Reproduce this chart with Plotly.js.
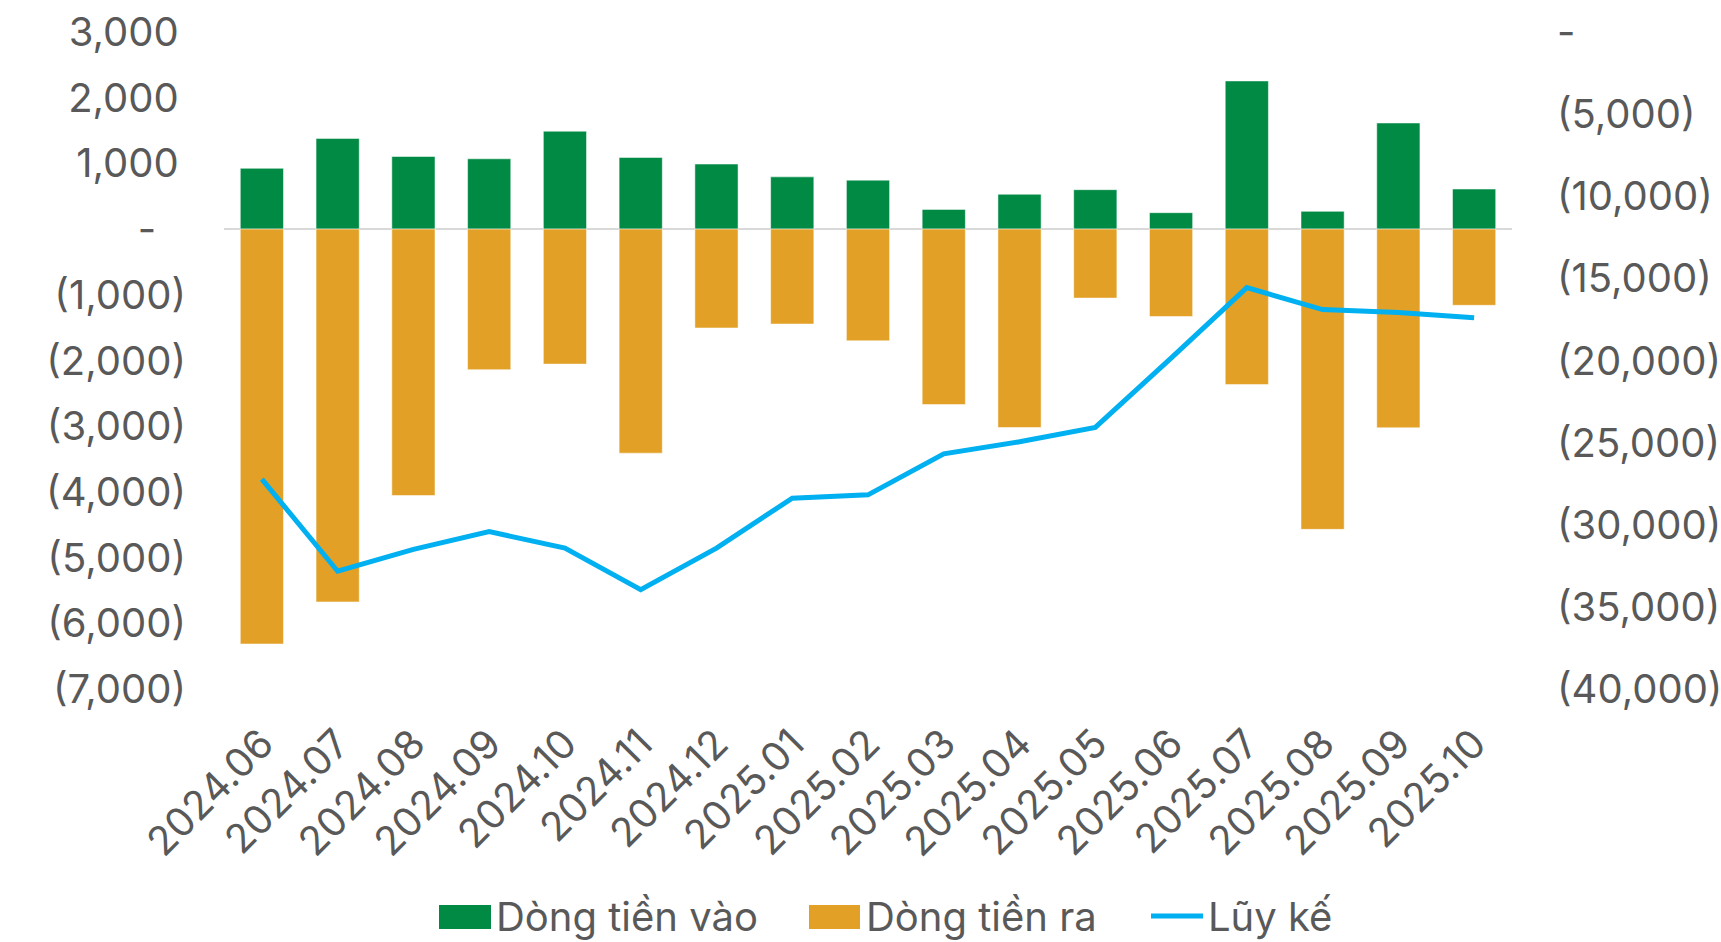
<!DOCTYPE html>
<html>
<head>
<meta charset="utf-8">
<script src="https://cdn.plot.ly/plotly-3.0.1.min.js"></script>
<style>html,body{margin:0;padding:0;background:#fff;}#chart{width:1721px;height:942px;}</style>
</head>
<body>
<div id="chart"></div>
<script>
const months = ['2024.06','2024.07','2024.08','2024.09','2024.10','2024.11','2024.12','2025.01','2025.02','2025.03','2025.04','2025.05','2025.06','2025.07','2025.08','2025.09','2025.10'];
const inflow = [925, 1380, 1105, 1070, 1490, 1090, 990, 795, 745, 300, 530, 600, 250, 2255, 270, 1615, 610];
const outflow = [-6315, -5675, -4055, -2140, -2055, -3410, -1505, -1445, -1700, -2670, -3020, -1050, -1330, -2365, -4570, -3025, -1160];
const cumulative = [-27220, -32830, -31500, -30420, -31420, -33950, -31420, -28380, -28180, -25680, -24950, -24070, -19860, -15560, -16900, -17080, -17400];

const leftTickVals = [3000, 2000, 1000, 0, -1000, -2000, -3000, -4000, -5000, -6000, -7000];
const leftTickText = ['3,000', '2,000', '1,000', '-', '(1,000)', '(2,000)', '(3,000)', '(4,000)', '(5,000)', '(6,000)', '(7,000)'];
const rightTickVals = [0, -5000, -10000, -15000, -20000, -25000, -30000, -35000, -40000];
const rightTickText = ['-', '(5,000)', '(10,000)', '(15,000)', '(20,000)', '(25,000)', '(30,000)', '(35,000)', '(40,000)'];
const seriesNames = ['Dòng tiền vào', 'Dòng tiền ra', 'Lũy kế'];

const GREEN = '#008A44', ORANGE = '#E2A026', BLUE = '#00B0F0', TXT = '#595959';
const FONT = 'Inter, Roboto, sans-serif';
const FS = 40;

const W = 1721, H = 942, ML = 224, MR = 209, MT = 32, MB = 253;
const PW = W - ML - MR, PH = H - MT - MB;
const px = x => (x - ML) / PW;
const py = y => (H - MB - y) / PH;

// pad non-parenthesised labels so digits line up like the reference
const NB = '\u00A0', TS = '\u2009';
const leftText = leftTickText.map(t => t === '-' ? '-' + NB + NB + TS : (t[0] === '(' ? t : t + TS));

const traces = [
  {type: 'bar', x: months, y: inflow, name: seriesNames[0], marker: {color: GREEN, line: {color: 'rgba(255,255,255,0.5)', width: 1}}, yaxis: 'y', hoverinfo: 'x+y'},
  {type: 'bar', x: months, y: outflow, name: seriesNames[1], marker: {color: ORANGE, line: {color: 'rgba(255,255,255,0.5)', width: 1}}, yaxis: 'y', hoverinfo: 'x+y'},
  {type: 'scatter', mode: 'lines', x: months, y: cumulative, name: seriesNames[2], line: {color: BLUE, width: 5}, yaxis: 'y2'}
];

const shapes = [
  {type: 'rect', xref: 'paper', yref: 'paper', x0: px(439), x1: px(491), y0: py(929), y1: py(905), fillcolor: GREEN, line: {width: 0}},
  {type: 'rect', xref: 'paper', yref: 'paper', x0: px(809), x1: px(860), y0: py(929), y1: py(905), fillcolor: ORANGE, line: {width: 0}},
  {type: 'line', xref: 'paper', yref: 'paper', x0: px(1151), x1: px(1203), y0: py(916), y1: py(916), line: {color: BLUE, width: 5}}
];
const legX = [494, 864, 1206];
const annotations = seriesNames.map((n, i) => ({
  xref: 'paper', yref: 'paper', x: px(legX[i]), y: py(916), xanchor: 'left', yanchor: 'middle',
  text: n, showarrow: false, font: {family: FONT, size: FS, color: TXT}
}));

const layout = {
  width: W, height: H,
  margin: {l: ML, r: MR, t: MT, b: MB, pad: 0},
  paper_bgcolor: '#fff', plot_bgcolor: '#fff',
  barmode: 'relative', bargap: 0.43,
  showlegend: false,
  font: {family: FONT, size: FS, color: TXT},
  xaxis: {
    type: 'category', tickangle: -45, showgrid: false, zeroline: false, showline: false, ticks: '',
    tickfont: {family: FONT, size: FS, color: TXT}, ticklabelstandoff: 22, automargin: false
  },
  yaxis: {
    range: [-7000, 3000], tickmode: 'array', tickvals: leftTickVals, ticktext: leftText,
    showgrid: false, zeroline: true, zerolinecolor: '#D9D9D9', zerolinewidth: 2, showline: false, ticks: '',
    tickfont: {family: FONT, size: FS, color: TXT}, ticklabelstandoff: 37, automargin: false
  },
  yaxis2: {
    range: [-40000, 0], overlaying: 'y', side: 'right', tickmode: 'array', tickvals: rightTickVals, ticktext: rightTickText,
    showgrid: false, zeroline: false, showline: false, ticks: '',
    tickfont: {family: FONT, size: FS, color: TXT}, ticklabelstandoff: 44, automargin: false
  },
  shapes: shapes,
  annotations: annotations
};

Plotly.newPlot('chart', traces, layout, {displayModeBar: false, staticPlot: true});
</script>
</body>
</html>
